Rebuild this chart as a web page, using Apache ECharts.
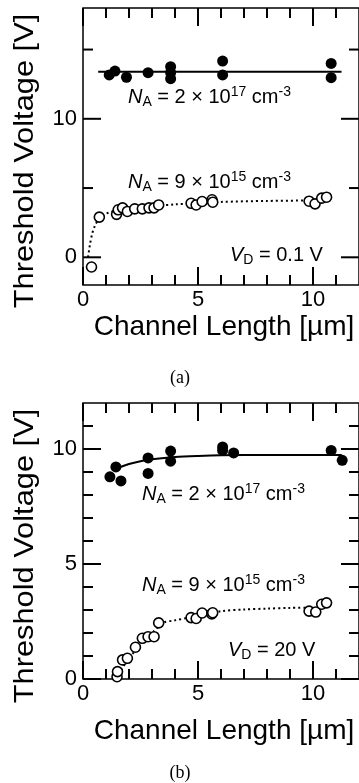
<!DOCTYPE html>
<html>
<head>
<meta charset="utf-8">
<script src="https://cdn.jsdelivr.net/npm/echarts@6/dist/echarts.min.js"></script>
<style>
  html, body { margin: 0; padding: 0; background: #fff; }
  #chart { width: 359px; height: 783px; }
</style>
</head>
<body>
<div id="chart"></div>
<script>
// tick positions
const xMajor = [0, 5, 10];
const xMinor = [1, 2, 3, 4, 6, 7, 8, 9, 11];
const yMajorA = [0, 10];
const yMinorA = [5, 15];
const yMajorB = [0, 5, 10];
const yMinorB = [1, 2, 3, 4, 6, 7, 8, 9, 11];

// (a) VD = 0.1 V
const aHighL = [1.14, 1.39, 1.89, 2.83, 3.81, 3.81, 3.81, 6.07, 6.07, 10.79, 10.79];
const aHighV = [13.17, 13.45, 13.0, 13.33, 13.76, 13.33, 12.9, 14.17, 13.17, 14.0, 12.97];
const aHighFitL = [0.66, 11.24];
const aHighFitV = [13.4, 13.4];
const aLowL = [0.37, 0.71, 1.46, 1.53, 1.72, 1.93, 2.25, 2.58, 2.87, 3.09, 3.29, 4.70, 4.92, 5.18, 5.61, 5.64, 9.83, 10.09, 10.38, 10.59];
const aLowV = [-0.7, 2.9, 3.1, 3.43, 3.57, 3.31, 3.5, 3.5, 3.57, 3.57, 3.78, 3.9, 3.78, 4.03, 4.15, 3.98, 4.05, 3.86, 4.27, 4.34];
const aLowFitL = [0.22, 0.3, 0.4, 0.5, 0.7, 1.0, 1.5, 2, 3, 4, 5, 6, 8, 9.8];
const aLowFitV = [0, 0.9, 1.7, 2.2, 2.8, 3.15, 3.4, 3.52, 3.68, 3.82, 3.92, 4.0, 4.07, 4.1];

// (b) VD = 20 V
const bHighL = [1.17, 1.43, 1.65, 2.83, 2.83, 3.81, 3.81, 6.07, 6.07, 6.55, 10.79, 11.27];
const bHighV = [8.79, 9.22, 8.61, 9.61, 8.94, 9.91, 9.47, 10.09, 9.94, 9.83, 9.94, 9.51];
const bHighFitL = [1.45, 2, 2.5, 3, 4, 5, 6, 8, 11.25];
const bHighFitV = [9.15, 9.35, 9.47, 9.55, 9.65, 9.7, 9.73, 9.74, 9.74];
const bLowL = [1.48, 1.5, 1.72, 1.93, 2.28, 2.58, 2.83, 3.09, 3.29, 4.70, 4.92, 5.18, 5.6, 5.64, 9.83, 10.12, 10.38, 10.59];
const bLowV = [0.1, 0.32, 0.83, 0.9, 1.38, 1.77, 1.84, 1.84, 2.44, 2.67, 2.63, 2.87, 2.83, 2.88, 2.95, 2.91, 3.25, 3.31];
const bLowFitL = [1.45, 1.7, 2, 2.5, 3, 3.5, 4, 4.5, 5, 6, 7, 8, 9, 9.75];
const bLowFitV = [0, 0.45, 0.9, 1.5, 2.0, 2.45, 2.55, 2.65, 2.75, 2.95, 3.02, 3.06, 3.09, 3.1];

const xRange = [0, 12];
const yRangeA = [-2, 18];
const yRangeB = [0, 12];

const zip = (xs, ys) => xs.map((x, i) => [x, ys[i]]);
const black = '#000';
const labelStyle = { fontSize: 22, color: black, fontFamily: 'Liberation Sans' };

function xAxisFor(g) {
  return {
    gridIndex: g, type: 'value', min: xRange[0], max: xRange[1],
    axisLine: { show: false, onZero: false }, axisTick: { show: false }, splitLine: { show: false },
    axisLabel: Object.assign({ customValues: xMajor, margin: 4 }, labelStyle)
  };
}
function yAxisFor(g, range, major) {
  return {
    gridIndex: g, type: 'value', min: range[0], max: range[1],
    axisLine: { show: false, onZero: false }, axisTick: { show: false }, splitLine: { show: false },
    axisLabel: Object.assign({ customValues: major, margin: 6 }, labelStyle)
  };
}

// inward ticks on both sides of the frame, placed with the axis scale
function ticks(ax, values, dim, len, other) {
  const w = 2;
  return {
    type: 'custom', xAxisIndex: ax, yAxisIndex: ax, silent: true, z: 4,
    data: values.map(v => dim === 'x' ? [v, other] : [other, v]),
    renderItem(params, api) {
      const cs = params.coordSys;
      const st = { fill: black };
      if (dim === 'x') {
        const px = api.coord([api.value(0), other])[0];
        return { type: 'group', children: [
          { type: 'rect', shape: { x: px - w / 2, y: cs.y + cs.height - len, width: w, height: len }, style: st },
          { type: 'rect', shape: { x: px - w / 2, y: cs.y, width: w, height: len }, style: st }
        ] };
      }
      const py = api.coord([other, api.value(1)])[1];
      return { type: 'group', children: [
        { type: 'rect', shape: { x: cs.x, y: py - w / 2, width: len, height: w }, style: st },
        { type: 'rect', shape: { x: cs.x + cs.width - len, y: py - w / 2, width: len, height: w }, style: st }
      ] };
    }
  };
}

function filled(data, ax) {
  return { type: 'scatter', xAxisIndex: ax, yAxisIndex: ax, data, symbolSize: 11,
    itemStyle: { color: black, opacity: 1 }, z: 3 };
}
function hollow(data, ax) {
  return { type: 'scatter', xAxisIndex: ax, yAxisIndex: ax, data, symbolSize: 10,
    itemStyle: { color: '#fff', borderColor: black, borderWidth: 1.6, opacity: 1 }, z: 3 };
}
function fit(data, ax, dotted) {
  return { type: 'line', xAxisIndex: ax, yAxisIndex: ax, data, symbol: 'none', smooth: 0.3,
    lineStyle: { color: black, width: 2, type: dotted ? [2, 3] : 'solid' }, z: 2 };
}

const rich = {
  i: { fontSize: 20, fontStyle: 'italic', fontFamily: 'Liberation Sans', lineHeight: 24, fill: black },
  n: { fontSize: 20, fontFamily: 'Liberation Sans', lineHeight: 24, fill: black },
  sub: { fontSize: 14, fontFamily: 'Liberation Sans', verticalAlign: 'bottom', lineHeight: 14, fill: black },
  sup: { fontSize: 14, fontFamily: 'Liberation Sans', verticalAlign: 'top', lineHeight: 14, fill: black }
};
function note(text, x, y) {
  return { type: 'text', x, y, style: { text, rich, textVerticalAlign: 'middle', fill: black } };
}
function plain(text, x, y, font, rot, stretch) {
  return { type: 'text', x, y, rotation: rot || 0, scaleX: stretch || 1,
    style: { text, font, fill: black, textAlign: 'center', textVerticalAlign: 'middle' } };
}

const chart = echarts.init(document.getElementById('chart'));
chart.setOption({
  animation: false,
  grid: [
    { left: 83, top: 8, width: 277, height: 277, show: true, borderColor: black, borderWidth: 1.5, backgroundColor: 'transparent', containLabel: false },
    { left: 83, top: 403, width: 277, height: 276, show: true, borderColor: black, borderWidth: 1.5, backgroundColor: 'transparent', containLabel: false }
  ],
  xAxis: [xAxisFor(0), xAxisFor(1)],
  yAxis: [yAxisFor(0, yRangeA, yMajorA), yAxisFor(1, yRangeB, yMajorB)],
  series: [
    ticks(0, xMajor, 'x', 18, yRangeA[0]),
    ticks(0, xMinor, 'x', 10, yRangeA[0]),
    ticks(0, yMajorA, 'y', 18, xRange[0]),
    ticks(0, yMinorA, 'y', 10, xRange[0]),
    ticks(1, xMajor, 'x', 18, yRangeB[0]),
    ticks(1, xMinor, 'x', 10, yRangeB[0]),
    ticks(1, yMajorB, 'y', 18, xRange[0]),
    ticks(1, yMinorB, 'y', 10, xRange[0]),
    fit(zip(aHighFitL, aHighFitV), 0, false),
    fit(zip(aLowFitL, aLowFitV), 0, true),
    filled(zip(aHighL, aHighV), 0),
    hollow(zip(aLowL, aLowV), 0),
    fit(zip(bHighFitL, bHighFitV), 1, false),
    fit(zip(bLowFitL, bLowFitV), 1, true),
    filled(zip(bHighL, bHighV), 1),
    hollow(zip(bLowL, bLowV), 1)
  ],
  graphic: [
    note('{i|N}{sub|A}{n| = 2 × 10}{sup|17}{n| cm}{sup|-3}', 128, 97),
    note('{i|N}{sub|A}{n| = 9 × 10}{sup|15}{n| cm}{sup|-3}', 128, 182),
    note('{i|V}{sub|D}{n| = 0.1 V}', 230, 255),
    note('{i|N}{sub|A}{n| = 2 × 10}{sup|17}{n| cm}{sup|-3}', 142, 494),
    note('{i|N}{sub|A}{n| = 9 × 10}{sup|15}{n| cm}{sup|-3}', 142, 585),
    note('{i|V}{sub|D}{n| = 20 V}', 228, 650),
    plain('Threshold Voltage [V]', 25, 161, '28px "Liberation Sans"', Math.PI / 2, 1.1),
    plain('Threshold Voltage [V]', 25, 556, '28px "Liberation Sans"', Math.PI / 2, 1.1),
    plain('Channel Length [µm]', 224, 327, '28px "Liberation Sans"'),
    plain('Channel Length [µm]', 224, 731, '28px "Liberation Sans"'),
    plain('(a)', 180, 378, '18px "Liberation Serif"'),
    plain('(b)', 180, 773, '18px "Liberation Serif"')
  ]
});
</script>
</body>
</html>
